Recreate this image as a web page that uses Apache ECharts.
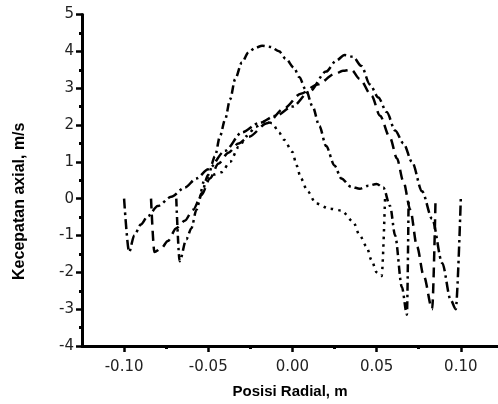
<!DOCTYPE html>
<html>
<head>
<meta charset="utf-8">
<script src="https://cdn.jsdelivr.net/npm/echarts@6/dist/echarts.min.js"></script>
<style>
html,body{margin:0;padding:0;background:#fff;}
#chart{width:498px;height:404px;}
</style>
</head>
<body>
<div id="chart"></div>
<script>
// Radial positions (m) and axial velocities (m/s) for each profile
var radialA = [-0.100, -0.097, -0.094, -0.090, -0.086, -0.080, -0.072, -0.064, -0.057, -0.050, -0.040, -0.030, -0.020, -0.010, 0.000, 0.010, 0.020, 0.026, 0.031, 0.036, 0.041, 0.046, 0.051, 0.056, 0.061, 0.066, 0.071, 0.077, 0.083, 0.089, 0.094, 0.097, 0.100];
var velocityA = [0, -1.45, -1.0, -0.7, -0.48, -0.2, 0.05, 0.3, 0.55, 0.8, 1.3, 1.8, 2.05, 2.25, 2.5, 2.9, 3.45, 3.75, 3.9, 3.85, 3.6, 3.1, 2.75, 2.35, 1.85, 1.5, 1.0, 0.2, -0.55, -1.75, -2.75, -3.0, 0];

var radialB = [-0.084, -0.082, -0.078, -0.074, -0.069, -0.064, -0.059, -0.054, -0.049, -0.044, -0.038, -0.032, -0.026, -0.015, -0.005, 0.005, 0.015, 0.025, 0.030, 0.035, 0.040, 0.047, 0.052, 0.058, 0.062, 0.066, 0.070, 0.074, 0.078, 0.083, 0.085];
var velocityB = [0, -1.45, -1.35, -1.15, -0.8, -0.6, -0.3, 0.1, 0.55, 0.95, 1.25, 1.5, 1.68, 2.05, 2.45, 2.85, 3.1, 3.38, 3.47, 3.5, 3.25, 2.8, 2.25, 1.65, 1.1, 0.45, -0.3, -1.3, -2.1, -3.0, 0];

var radialC = [-0.069, -0.067, -0.063, -0.060, -0.057, -0.054, -0.050, -0.046, -0.043, -0.040, -0.037, -0.034, -0.030, -0.026, -0.022, -0.018, -0.013, -0.008, -0.004, 0.001, 0.004, 0.008, 0.012, 0.016, 0.020, 0.025, 0.029, 0.035, 0.040, 0.045, 0.050, 0.054, 0.058, 0.061, 0.065, 0.068, 0.069];
var velocityC = [0, -1.7, -1.1, -0.8, -0.3, 0.15, 0.65, 1.15, 1.7, 2.15, 2.7, 3.25, 3.7, 3.98, 4.1, 4.15, 4.12, 4.0, 3.8, 3.55, 3.3, 2.95, 2.5, 1.97, 1.43, 0.9, 0.55, 0.32, 0.27, 0.35, 0.4, 0.3, -0.2, -1.0, -2.4, -3.15, 0];

var radialD = [-0.055, -0.052, -0.047, -0.042, -0.037, -0.032, -0.027, -0.022, -0.016, -0.012, -0.008, -0.005, 0.000, 0.0025, 0.005, 0.009, 0.014, 0.022, 0.029, 0.036, 0.040, 0.044, 0.047, 0.050, 0.053, 0.055];
var velocityD = [0, 0.55, 0.65, 0.72, 1.0, 1.4, 1.7, 1.95, 2.1, 2.05, 1.8, 1.6, 1.27, 0.9, 0.55, 0.2, -0.13, -0.27, -0.32, -0.62, -1.0, -1.3, -1.67, -2.0, -2.1, 0];

var xTicks = [-0.10, -0.05, 0.00, 0.05, 0.10];
var yMin = -4, yMax = 5;

function pairs(xs, ys) { return xs.map(function (x, i) { return [x, ys[i]]; }); }

var FONT = 'DejaVu Sans';
var TITLE_FONT = 'Liberation Sans';

// plot-area geometry
var W = 498, GL = 82, XMIN = -0.125, XMAX = 0.1221;
var pxPerUnit = (W - GL) / (XMAX - XMIN);
var tickLeft = GL + (xTicks[0] - XMIN) * pxPerUnit;
var tickRight = W - (GL + (xTicks[xTicks.length - 1] - XMIN) * pxPerUnit);

var chart = echarts.init(document.getElementById('chart'), null, {renderer: 'canvas'});

function lineSeries(name, xs, ys, dash) {
  return {
    name: name, type: 'line', xAxisIndex: 0, yAxisIndex: 0,
    data: pairs(xs, ys), showSymbol: false, smooth: 0.3, smoothMonotone: 'x',
    lineStyle: {color: '#000', width: 2.5, type: dash, cap: 'butt'},
    animation: false, silent: true
  };
}

chart.setOption({
  animation: false,
  backgroundColor: '#fff',
  grid: [
    {left: GL, right: 0, top: 14.5, bottom: 58},
    {left: tickLeft, right: tickRight, top: 14.5, bottom: 58}
  ],
  xAxis: [
    {
      type: 'value', gridIndex: 0, min: XMIN, max: XMAX, position: 'bottom',
      axisLine: {show: true, onZero: false, lineStyle: {color: '#000', width: 3}},
      axisTick: {show: false}, axisLabel: {show: false}, splitLine: {show: false},
      name: 'Posisi Radial, m', nameLocation: 'middle', nameGap: 38,
      nameTextStyle: {fontFamily: TITLE_FONT, fontWeight: 'bold', fontSize: 15, color: '#000'}
    },
    {
      type: 'value', gridIndex: 1, min: xTicks[0], max: xTicks[xTicks.length - 1], interval: 0.05, position: 'bottom',
      axisLine: {show: false, onZero: false},
      axisTick: {show: true, inside: false, length: 6, lineStyle: {color: '#000', width: 2.5}},
      minorTick: {show: true, splitNumber: 2, length: 3, lineStyle: {color: '#000', width: 3}},
      axisLabel: {
        show: true, margin: 14,
        fontFamily: FONT, fontSize: 15, color: '#222',
        formatter: function (v) { return v.toFixed(2); }
      },
      splitLine: {show: false}
    }
  ],
  yAxis: [
    {
      type: 'value', gridIndex: 0, min: yMin, max: yMax, interval: 1, position: 'left',
      axisLine: {show: true, onZero: false, lineStyle: {color: '#000', width: 3}},
      axisTick: {show: true, inside: false, length: 6, lineStyle: {color: '#000', width: 2.5}},
      minorTick: {show: true, splitNumber: 2, length: 3, lineStyle: {color: '#000', width: 3}},
      axisLabel: {margin: 8, fontFamily: FONT, fontSize: 15, color: '#222'},
      splitLine: {show: false},
      name: 'Kecepatan axial, m/s', nameLocation: 'middle', nameGap: 54, nameRotate: 90,
      nameTextStyle: {fontFamily: TITLE_FONT, fontWeight: 'bold', fontSize: 16, color: '#000', padding: [0, 42, 0, 0]}
    },
    {type: 'value', gridIndex: 1, min: yMin, max: yMax, show: false}
  ],
  series: [
    lineSeries('A', radialA, velocityA, [10, 4, 2.5, 4]),
    lineSeries('B', radialB, velocityB, [10, 6]),
    lineSeries('C', radialC, velocityC, [8, 4, 2.5, 4]),
    lineSeries('D', radialD, velocityD, [2.5, 5])
  ]
});
</script>
</body>
</html>
